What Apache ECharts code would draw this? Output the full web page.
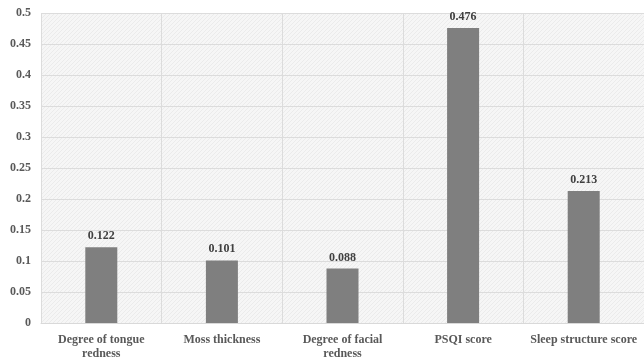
<!DOCTYPE html>
<html>
<head>
<meta charset="utf-8">
<script src="https://cdn.jsdelivr.net/npm/echarts@6/dist/echarts.min.js"></script>
<style>
  html, body { margin: 0; padding: 0; background: #ffffff; }
  #chart { width: 644px; height: 361px; }
</style>
</head>
<body>
<div id="chart"></div>
<script>
// Correlation coefficients per indicator
const categories = [
  'Degree of tongue\nredness',
  'Moss thickness',
  'Degree of facial\nredness',
  'PSQI score',
  'Sleep structure score'
];
const values = [0.122, 0.101, 0.088, 0.476, 0.213];
const yTicks = { min: 0, max: 0.5, interval: 0.05 };

// Fine diagonal hatch for the plotting area
function hatchPattern() {
  const c = document.createElement('canvas');
  c.width = 4; c.height = 4;
  const ctx = c.getContext('2d');
  ctx.fillStyle = '#f6f6f6';
  ctx.fillRect(0, 0, 4, 4);
  ctx.strokeStyle = '#ebebeb';
  ctx.lineWidth = 1;
  ctx.beginPath();
  ctx.moveTo(0, 4); ctx.lineTo(4, 0);
  ctx.moveTo(-1, 1); ctx.lineTo(1, -1);
  ctx.moveTo(3, 5); ctx.lineTo(5, 3);
  ctx.stroke();
  return { image: c, repeat: 'repeat' };
}

const font = '"Liberation Serif", "Times New Roman", serif';
const chart = echarts.init(document.getElementById('chart'));
chart.setOption({
  animation: false,
  backgroundColor: '#ffffff',
  grid: {
    left: 41, right: -2, top: 13, bottom: 32,
    show: true,
    backgroundColor: hatchPattern(),
    borderWidth: 0
  },
  xAxis: {
    type: 'category',
    data: categories,
    axisLine: { show: true, lineStyle: { color: '#d9d9d9' } },
    axisTick: { show: false },
    splitLine: { show: true, lineStyle: { color: '#dcdcdc', width: 1 } },
    axisLabel: {
      interval: 0,
      margin: 10,
      fontFamily: font,
      fontWeight: 'bold',
      fontSize: 12,
      lineHeight: 14,
      color: '#595959'
    }
  },
  yAxis: {
    type: 'value',
    min: yTicks.min,
    max: yTicks.max,
    interval: yTicks.interval,
    axisLine: { show: false },
    axisTick: { show: false },
    splitLine: { lineStyle: { color: '#dcdcdc', width: 1 } },
    axisLabel: {
      margin: 10,
      fontFamily: font,
      fontWeight: 'bold',
      fontSize: 12,
      color: '#595959'
    }
  },
  series: [{
    type: 'bar',
    data: values,
    barWidth: 32,
    itemStyle: { color: '#7f7f7f' },
    label: {
      show: true,
      position: 'top',
      distance: 5,
      fontFamily: font,
      fontWeight: 'bold',
      fontSize: 12,
      color: '#404040',
      formatter: p => p.value.toFixed(3)
    }
  }]
});
</script>
</body>
</html>
